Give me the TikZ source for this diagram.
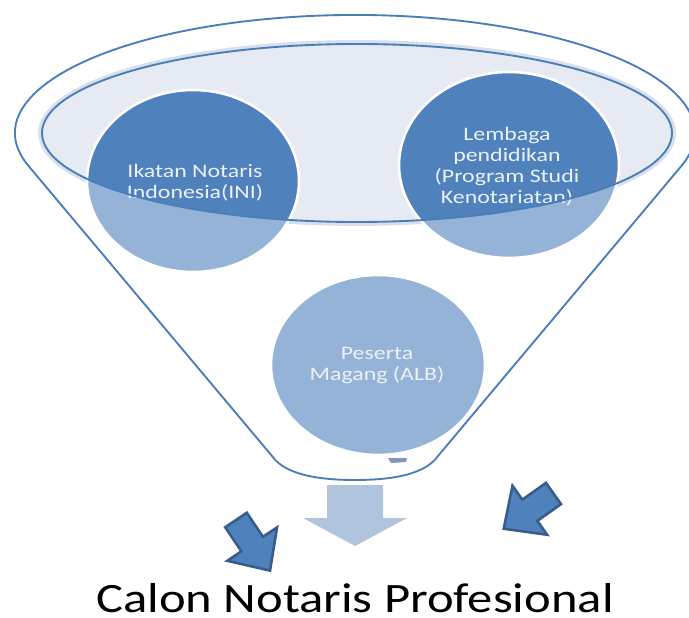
\documentclass[tikz,border=0pt]{standalone}
\usepackage{fontspec}
\setmainfont{Carlito}
\newfontfamily\bubblefont[FakeStretch=1.25]{Carlito}
\newfontfamily\captionfont[FakeStretch=1.21]{Carlito}
\usetikzlibrary{positioning}
\definecolor{rimblue}{RGB}{74,126,187}
\definecolor{darkbubble}{RGB}{79,129,189}
\definecolor{lightbubble}{RGB}{149,179,215}
\definecolor{mouthfill}{RGB}{229,234,243}
\definecolor{mouthglow}{RGB}{216,224,236}
\definecolor{downfill}{RGB}{176,196,222}
\definecolor{clipedge}{RGB}{56,93,138}
\definecolor{bubbletext}{RGB}{236,241,248}
\definecolor{sliver}{RGB}{128,152,186}
\tikzset{
    rim/.style={draw=rimblue, line width=1.6pt},
    bubbleedge/.style={draw=white, line width=2.2pt},
    bubblelabel/.style={align=center, text=bubbletext, inner sep=0pt, font=\bubblefont\fontsize{16.3}{18}\selectfont},
    caption/.style={anchor=base, inner sep=0pt, font=\captionfont\fontsize{35.7}{40}\selectfont},
    bluearrow/.style={fill=darkbubble, draw=clipedge, line width=2.2pt}
}

\begin{document}
\begin{tikzpicture}[x=0.03cm, y=-0.03cm]
    \useasboundingbox (0,0) rectangle (689,618);
    \clip (0,0) rectangle (689,618);

    % funnel
    \draw[rim, fill=white] (28,165.3) arc[start angle=164.1, end angle=375.9, x radius=340, y radius=118]
        -- (438,456) .. controls (428,470) and (405,480) .. (355,480)
        .. controls (305,480) and (282,470) .. (272,456) -- cycle;
    \draw[mouthglow, line width=5pt] (357,133) ellipse [x radius=316, y radius=90];
    \fill[mouthfill] (357,133) ellipse [x radius=315, y radius=89];

    % bubbles
    \foreach \cx/\cy/\rx/\ry in {193/181/106/91, 509/165/110/93, 378/365/107/90}
        \fill[lightbubble] (\cx,\cy) ellipse [x radius=\rx, y radius=\ry];
    \begin{scope}
        \clip (357,133) ellipse [x radius=315, y radius=89];
        \foreach \cx/\cy/\rx/\ry in {193/181/106/91, 509/165/110/93}
            \fill[darkbubble] (\cx,\cy) ellipse [x radius=\rx, y radius=\ry];
    \end{scope}
    \foreach \cx/\cy/\rx/\ry in {193/181/106/91, 509/165/110/93, 378/365/107/90}
        \draw[bubbleedge] (\cx,\cy) ellipse [x radius=\rx, y radius=\ry];

    % Nodes
    \node[bubblelabel] (ini) at (195,182.3) {Ikatan Notaris\\Indonesia(INI)};
    \node[bubblelabel] (lembaga) at (507,166.7) {Lembaga\\pendidikan\\(Program Studi\\Kenotariatan)};
    \node[bubblelabel] (magang) at (377,365.5) {Peserta\\Magang (ALB)};
    \node[caption] (calon) at (355,612) {Calon Notaris Profesional};

    \draw[rimblue, line width=1.6pt] (357,133) ellipse [x radius=315, y radius=89];
    \fill[sliver] (388,458) -- (407,458) -- (406,462) -- (391,463) -- cycle;

    % arrows
    \fill[downfill] (327,485) -- (383,485) -- (383,518) -- (407,518) -- (355,546)
        -- (303,518) -- (327,518) -- cycle;
    \foreach \x/\y/\a in {236/520/-56.1, 553.5/493.5/-144.7}
        \draw[bluearrow, shift={(\x,\y)}, rotate=\a] (0,13) -- (29,13) -- (29,30)
            -- (61,0) -- (29,-30) -- (29,-13) -- (0,-13) -- cycle;
\end{tikzpicture}
\end{document}
